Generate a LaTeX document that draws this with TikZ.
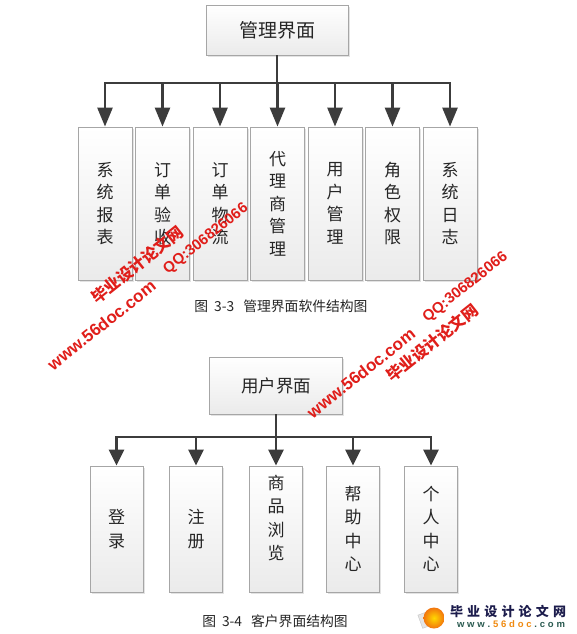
\documentclass[tikz,border=0pt]{standalone}
\usepackage{fontspec}
\setmainfont{Noto Sans CJK SC}
\newfontfamily\latinb{Liberation Sans}
\usetikzlibrary{arrows.meta,shadows}
\definecolor{conn}{HTML}{3C3C3C}
\definecolor{bord}{HTML}{A6A6A6}
\definecolor{wm}{HTML}{E01E1A}
\definecolor{navy}{HTML}{1C1C4C}
\definecolor{teal}{HTML}{2A5A50}
\definecolor{orng}{HTML}{F08A10}
\begin{document}
\begin{tikzpicture}[x=1pt,y=-1pt,
  boxst/.style={draw=bord, line width=0.8pt, top color=white, bottom color=gray!16,
    drop shadow={shadow xshift=1.6pt,shadow yshift=-1.6pt,opacity=0.22},
    inner sep=0pt, align=center, text=black!85},
  rootbox/.style={boxst, font=\fontsize{19}{19}\selectfont},
  leaftop/.style={boxst, minimum width=54pt, minimum height=153pt, font=\fontsize{17}{22.5}\selectfont},
  leafbot/.style={boxst, minimum width=53pt, minimum height=126pt, font=\fontsize{17}{23.3}\selectfont},
  conn/.style={draw=conn, line width=2.6pt},
  arrA/.style={conn, -{Triangle[length=19pt,width=15pt]}},
  arrB/.style={conn, -{Triangle[length=16pt,width=15pt]}},
  capt/.style={font=\fontsize{13.8}{13.8}\selectfont, text=black!85},
  wmcjk/.style={text=wm, rotate=38.5, font=\fontsize{16}{16}\selectfont\bfseries, inner sep=0pt},
  wmlat/.style={text=wm, rotate=38.5, font=\latinb\bfseries, inner sep=0pt}
]
\useasboundingbox[fill=white] (0,0) rectangle (577,634);

% ---------- top diagram ----------
\node[rootbox, minimum width=142pt, minimum height=50pt] (r1) at (277,30) {管理界面};
\node[leaftop] (a1) at (105,203.5)   {系\\统\\报\\表};
\node[leaftop] (a2) at (162.5,203.5) {订\\单\\验\\收};
\node[leaftop] (a3) at (220,203.5)   {订\\单\\物\\流};
\node[leaftop] (a4) at (277.5,203.5) {代\\理\\商\\管\\理};
\node[leaftop] (a5) at (335,203.5)   {用\\户\\管\\理};
\node[leaftop] (a6) at (392.5,203.5) {角\\色\\权\\限};
\node[leaftop] (a7) at (450,203.5)   {系\\统\\日\\志};
\coordinate (b1) at (277,83);
\draw[conn] (r1.south) -- (b1);
\draw[conn, line cap=rect] (a1.north |- b1) -- (a7.north |- b1);
\foreach \n in {a1,a2,a3,a4,a5,a6,a7} \draw[arrA] (\n.north |- b1) -- (\n.north);

\node[capt] (cap1) at (281,306) {图\hspace{6pt}3-3\hspace{9pt}管理界面软件结构图};

% ---------- bottom diagram ----------
\node[rootbox, minimum width=133pt, minimum height=57pt, font=\fontsize{17.5}{17.5}\selectfont] (r2) at (276,385.5) {用户界面};
\node[leafbot] (c1) at (116.5,529) {登\\录};
\node[leafbot] (c2) at (196,529)   {注\\册};
\node[leafbot] (c3) at (276,529)   {商\\品\\浏\\览\\\mbox{}};
\node[leafbot] (c4) at (353,529)   {帮\\助\\中\\心};
\node[leafbot] (c5) at (431,529)   {个\\人\\中\\心};
\coordinate (b2) at (276,437);
\draw[conn] (r2.south) -- (b2);
\draw[conn, line cap=rect] (c1.north |- b2) -- (c5.north |- b2);
\foreach \n in {c1,c2,c3,c4,c5} \draw[arrB] (\n.north |- b2) -- (\n.north);

\node[capt] (cap2) at (275,621) {图\hspace{6pt}3-4\hspace{9pt}客户界面结构图};

% ---------- watermarks ----------
\node[wmcjk] (w1) at (137,265) {毕业设计论文网};
\node[wmlat, font=\latinb\bfseries\fontsize{15}{15}\selectfont] (w2) at (206,239) {QQ:306826066};
\node[wmlat, font=\latinb\bfseries\fontsize{17}{17}\selectfont] (w3) at (101.5,325) {www.56doc.com};
\node[wmlat, font=\latinb\bfseries\fontsize{15}{15}\selectfont] (w4) at (465.5,287.5) {QQ:306826066};
\node[wmcjk] (w5) at (432,343) {毕业设计论文网};
\node[wmlat, font=\latinb\bfseries\fontsize{17}{17}\selectfont] (w6) at (361,373) {www.56doc.com};

% ---------- logo ----------
\node[fill=gray!20, draw=gray!45, line width=0.4pt, minimum width=10pt, minimum height=14pt, rotate=20, inner sep=0pt] (pg) at (425,620) {};
\node[circle, inner color=yellow!70!orange, outer color=orng!85!red, minimum size=21pt, inner sep=0pt] (ball) at (434,618) {};
\node[font=\fontsize{13}{13}\selectfont\bfseries, text=navy, inner sep=0pt] (lg1) at (508,611)
  {\makebox[116pt]{毕\hfill 业\hfill 设\hfill 计\hfill 论\hfill 文\hfill 网}};
\node[font=\latinb\bfseries\fontsize{9.5}{9.5}\selectfont, inner sep=0pt] (lg2) at (511,624)
  {\makebox[108pt]{\color{teal}w\hfill w\hfill w\hfill .\hfill\color{orng}5\hfill 6\hfill d\hfill o\hfill c\hfill\color{teal}.\hfill c\hfill o\hfill m}};
\end{tikzpicture}
\end{document}
